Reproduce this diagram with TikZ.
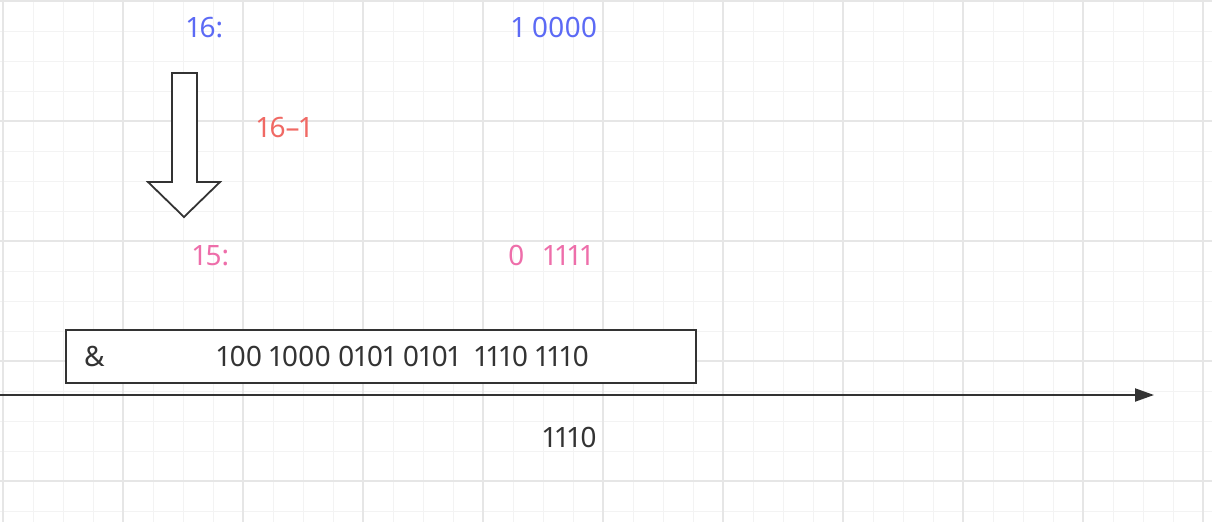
\documentclass[tikz,border=0pt]{standalone}
\usepackage{xcolor}
\usepackage{fontspec}
\setmainfont[Numbers=Proportional]{Noto Sans}
\usetikzlibrary{arrows.meta}

\definecolor{numblue}{RGB}{92,106,245}
\definecolor{numpink}{RGB}{238,110,170}
\definecolor{numred}{RGB}{240,105,100}
\definecolor{ink}{RGB}{51,51,51}
\definecolor{gridminor}{RGB}{243,243,243}
\definecolor{gridmajor}{RGB}{230,230,230}

\begin{document}
\begin{tikzpicture}[x=1pt,y=-1pt,
		num/.style={anchor=base west,inner sep=0pt,font=\fontsize{28}{33}\selectfont},
		minorline/.style={gridminor,line width=1pt},
		majorline/.style={gridmajor,line width=1.5pt}]
			\useasboundingbox (0,0) rectangle (1212,522);
			\fill[white] (0,0) rectangle (1212,522);
			% grid
			\foreach \x in {3,33,...,1203}{
				\draw[minorline] (\x,0) -- (\x,522);
			}
			\foreach \y in {1,31,...,511}{
				\draw[minorline] (0,\y) -- (1212,\y);
			}
			\foreach \x in {3,123,...,1203}{
				\draw[majorline] (\x,0) -- (\x,522);
			}
			\foreach \y in {1,121,...,481}{
				\draw[majorline] (0,\y) -- (1212,\y);
			}
			% numbers
			\node[num,numblue] (sixteen) at (187,37) {16:};
			\node[num,numblue] (binsixteen) at (512,37) {1 0000};
			\node[num,numred] (minusone) at (257,137) {16–1};
			\node[num,numpink] (fifteen) at (193,265) {15:};
			\node[num,numpink] (binfifteen) at (508,265) {0\hspace{19pt}1111};
			% block arrow
			\draw[ink,line width=1.8pt,fill=white,line join=miter] (172,73) -- (197,73) -- (197,182) -- (220,182) -- (184,217) -- (148,182) -- (172,182) -- cycle;
			% and
			\node[draw=ink,line width=2pt,fill=white,anchor=north west,inner sep=0pt,minimum width=630pt,minimum height=53pt] (andbox) at (65,329) {};
			\node[num,ink] (amp) at (84,366) {\&};
			\node[num,ink] (word) at (217,366) {100 1000 0101 0101\ \ 1110 1110};
			\coordinate (axisstart) at (0,395);
			\coordinate (axisend) at (1154,395);
			\draw[ink,line width=2pt,-{Triangle[length=19pt,width=13pt]}] (axisstart) -- (axisend);
			\node[num,ink] (result) at (543,447) {1110};
		\end{tikzpicture}
\end{document}
